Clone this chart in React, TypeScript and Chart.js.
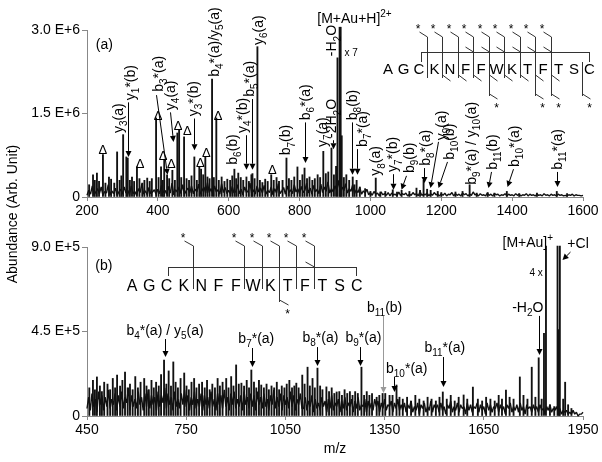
import React, { useEffect, useRef } from 'react';
import { Chart, registerables } from 'chart.js';
Chart.register(...registerables);

const FONT = '"Liberation Sans", Arial, Helvetica, sans-serif';

// ---------------- DATA ----------------
// Panel (a): baseline noise, sampled every 5 m/z from 200 (units of 1E+4)
const topNoiseStart = 200;
const topNoiseStep = 5;
const topNoise = [
  3,12,5,20,4,9,15,6,18,3,10,7,22,4,11,6,16,3,9,14,
  5,18,7,12,4,20,6,10,3,15,8,24,5,11,4,17,6,9,13,5,
  14,6,21,8,12,5,19,7,25,4,13,9,18,6,22,5,11,16,7,20,
  6,14,9,23,5,12,18,7,26,8,15,6,20,9,13,5,24,8,17,6,
  12,5,19,7,10,22,6,14,4,18,8,11,25,6,13,5,20,9,16,7,
  21,5,12,8,18,4,15,7,24,6,11,17,5,20,8,13,6,22,9,15,
  6,19,8,12,25,7,16,5,21,9,14,6,23,8,18,10,27,7,15,9,
  20,12,30,8,18,11,24,7,15,10,22,6,13,8,17,5,11,7,14,4,
  8,3,10,5,7,2,9,4,6,3,8,2,7,4,5,2,9,3,6,4,
  7,2,5,3,8,4,6,2,10,3,5,4,7,2,6,3,8,4,5,2,
  6,3,7,2,5,4,8,2,6,3,5,2,7,4,6,2,5,3,9,4,
  5,2,6,3,4,2,7,3,5,2,6,4,5,2,4,3,6,2,5,3,
  4,2,6,3,5,2,4,3,6,2,5,3,4,2,5,3,4,2,6,3,
  4,2,5,3,4,2,5,3,4,2,3,2,4,3,5,2,4,3,3,2,
  3,
];
// Panel (a): labelled / major peaks (m/z) and abundance (units of 1E+6)
const topPeakMz = [217,228,245,262,285,302,311,315,327,341,370,395,409,418,426,441,455,460,474,503,517,522,534,553,565,616,627,650,664,667,681,720,752,763,794,814,867,890,907,913,916,919,950,961,1015,1063,1088,1130,1150,1170,1190,1280,1331,1385,1526];
const topPeakAbund = [0.40,0.43,0.76,0.36,0.81,1.12,0.72,0.70,0.36,0.54,0.34,1.42,0.54,0.66,0.40,0.48,1.15,1.20,1.08,0.72,0.54,0.50,0.72,2.12,1.42,0.50,0.43,0.36,0.40,0.42,2.70,0.40,0.30,0.70,0.54,0.52,0.82,0.88,2.50,3.05,3.05,1.10,0.36,0.30,0.34,0.13,0.12,0.16,0.30,0.12,0.10,0.22,0.08,0.10,0.10];
// Panel (a): minor peaks (units of 1E+6)
const topMinorMz = [206,222,234,252,268,277,292,297,321,333,348,356,362,377,383,402,414,432,448,466,481,488,495,510,528,540,546,558,572,580,588,596,604,610,621,634,641,657,673,688,695,703,710,727,735,742,770,777,785,801,808,821,828,836,843,851,858,874,881,897,903,925,932,940,955,970,985,1000,1028,1042,1075,1110,1140,1160,1200,1240,1260,1300,1350,1420,1470,1555];
const topMinorAbund = [0.22,0.30,0.28,0.25,0.32,0.25,0.30,0.38,0.30,0.28,0.33,0.25,0.30,0.28,0.33,0.35,0.30,0.33,0.30,0.35,0.33,0.30,0.38,0.30,0.40,0.36,0.33,0.35,0.30,0.36,0.28,0.32,0.30,0.38,0.33,0.35,0.30,0.28,0.33,0.30,0.26,0.32,0.28,0.30,0.35,0.28,0.33,0.30,0.36,0.30,0.40,0.33,0.36,0.30,0.33,0.40,0.35,0.42,0.45,0.40,0.55,0.35,0.40,0.30,0.22,0.18,0.15,0.10,0.09,0.10,0.09,0.10,0.12,0.14,0.08,0.09,0.10,0.07,0.07,0.06,0.07,0.06];

// Panel (b): baseline noise, every 5 m/z from 450 (units of 1E+4)
const bottomNoiseStart = 450;
const bottomNoiseStep = 5;
const bottomNoise = [
  4,10,3,12,5,9,2,13,6,11,3,10,5,14,4,9,6,12,3,11,
  5,13,4,10,7,15,3,11,5,9,4,13,6,10,3,12,5,14,4,11,
  6,10,3,13,5,11,7,15,4,12,6,10,3,13,5,9,4,12,6,14,
  5,11,3,10,6,13,4,9,5,12,3,11,6,10,4,13,5,9,3,12,
  6,11,4,14,5,10,3,12,6,13,4,9,5,11,3,13,6,10,4,12,
  5,11,3,13,6,10,4,12,5,9,3,11,6,14,4,10,5,12,3,11,
  6,10,4,13,5,11,3,9,6,12,4,
  4,10,3,8,5,11,2,9,4,7,3,10,5,8,2,9,4,11,3,7,
  5,9,2,8,4,10,3,7,5,9,2,8,4,10,3,6,5,9,2,8,
  4,7,3,9,5,8,2,7,4,9,3,6,5,8,2,7,4,9,3,6,
  3,7,2,6,4,8,2,5,3,7,1,6,4,7,2,5,3,8,2,6,
  4,6,2,7,3,5,1,6,4,8,2,5,3,7,2,6,4,5,1,7,
  3,6,2,5,4,7,2,6,3,5,1,7,3,6,2,5,4,7,2,6,
  3,5,1,6,4,7,2,5,3,6,2,7,3,5,1,6,4,5,2,6,
  3,5,2,6,3,4,1,5,3,6,2,4,3,5,2,4,1,3,2,3,
  1,2,1,3,1,2,0,1,1,2,
];
// Panel (b): labelled / major peaks (m/z) and abundance (units of 1E+5)
const bottomPeakMz = [480,502,541,565,623,659,683,711,744,774,798,871,901,917,947,977,1062,1083,1101,1117,1132,1147,1174,1205,1280,1326,1344,1365,1386,1526,1589,1617,1717,1759,1795,1816,1832,1838,1873,1877,1880,1896];
const bottomPeakAbund = [2.08,1.80,2.18,2.34,2.00,1.80,2.98,2.88,2.29,2.00,1.80,2.00,2.72,1.75,2.45,1.65,1.90,1.75,2.18,2.60,2.00,2.55,1.55,1.28,2.60,1.00,1.20,1.10,1.65,1.28,1.12,1.54,1.38,2.08,2.60,3.10,4.40,9.05,9.05,4.60,9.05,1.80];
// Panel (b): minor peaks (units of 1E+5)
const bottomMinorMz = [457,468,474,489,495,512,520,528,535,550,557,573,580,588,596,604,612,630,637,645,652,667,674,690,697,704,718,725,733,751,758,766,781,789,806,813,821,829,837,845,852,860,878,886,893,909,925,933,940,955,962,970,985,993,1000,1008,1016,1024,1031,1039,1047,1054,1070,1077,1090,1108,1124,1139,1155,1162,1182,1190,1198,1213,1221,1229,1237,1245,1253,1261,1269,1288,1296,1304,1312,1334,1352,1374,1395,1405,1418,1430,1443,1455,1468,1480,1492,1505,1516,1538,1550,1562,1574,1600,1632,1645,1657,1670,1683,1695,1705,1728,1740,1770,1782,1806,1825,1850,1863,1890,1905,1915];
const bottomMinorAbund = [1.5,1.9,1.4,1.6,1.3,1.7,1.4,2.0,1.5,1.6,1.9,1.5,1.7,1.4,2.1,1.5,1.8,1.6,1.4,1.9,1.5,1.6,2.2,1.7,2.4,1.6,1.8,1.5,2.0,1.6,1.4,1.8,1.5,1.7,1.5,1.9,1.4,1.7,1.5,2.0,1.6,1.8,1.5,2.1,1.6,1.7,1.6,1.9,1.5,1.8,1.5,1.9,1.5,1.7,1.4,1.6,1.5,1.8,1.4,1.6,1.5,1.7,1.5,1.6,1.5,1.7,1.6,1.5,1.6,1.4,1.3,1.5,1.2,1.3,1.1,1.4,1.2,1.3,1.1,1.3,1.2,1.1,1.3,1.1,1.2,1.1,1.2,1.1,1.0,0.9,1.0,0.8,1.1,0.9,0.8,1.0,0.9,0.8,1.0,0.9,1.1,0.8,1.0,0.9,0.9,0.8,1.0,0.9,0.8,1.1,0.9,1.0,0.9,1.1,0.9,1.0,0.9,0.6,0.5,0.9,0.6,0.4];

// Axis ticks
const topXTicks = [200,400,600,800,1000,1200,1400,1600];
const topXLabels = ['200','400','600','800','1000','1200','1400','1600'];
const topYTicks = [0,1.5e6,3.0e6];
const topYLabels = ['0','1.5 E+6','3.0 E+6'];
const bottomXTicks = [450,750,1050,1350,1650,1950];
const bottomXLabels = ['450','750','1050','1350','1650','1950'];
const bottomYTicks = [0,4.5e5,9.0e5];
const bottomYLabels = ['0','4.5 E+5','9.0 E+5'];

// Annotations, anchored in data units: [text, m/z, abundance, arrowFromMz, arrowFromAb, arrowToMz, arrowToAb]
const topLabels: any[] = [
  ['y_{3}(a)', 290, 1.15],
  ['y_{1}*(b)', 324, 1.74, 316, 1.70, 316, 0.72],
  ['b_{3}*(a)', 404, 1.89, 396, 1.83, 426, 0.40],
  ['y_{4}(a)', 438, 1.56, 435, 1.52, 443, 0.99],
  ['y_{3}*(b)', 503, 1.45, 503, 1.41, 503, 0.84],
  ['b_{4}*(a)/y_{5}(a)', 562, 2.16],
  ['b_{6}(b)', 613, 0.58],
  ['y_{4}*(b)', 641, 1.15, 650, 1.11, 650, 0.49],
  ['b_{5}*(a)', 661, 1.80, 667, 1.76, 667, 0.49],
  ['y_{6}(a)', 686, 2.73],
  ['b_{7}(b)', 763, 0.75],
  ['b_{6}*(a)', 817, 1.38, 814, 1.34, 814, 0.61],
  ['y_{7}(a)', 865, 0.90],
  ['-2H_{2}O', 893, 1.06, 893, 1.02, 893, 0.86],
  ['-H_{2}O', 893, 2.53],
  ['b_{8}(b)', 950, 1.38, 947, 1.34, 947, 0.40],
  ['b_{7}*(a)', 978, 0.90, 963, 0.86, 963, 0.40],
  ['y_{8}(a)', 1017, 0.38],
  ['y_{7}*(b)', 1065, 0.45, 1063, 0.41, 1063, 0.13],
  ['b_{9}(b)', 1111, 0.43, 1100, 0.38, 1085, 0.13],
  ['b_{8}*(a)', 1156, 0.56, 1150, 0.52, 1150, 0.25],
  ['y_{9}(a)', 1201, 1.02, 1190, 0.99, 1167, 0.16],
  ['b_{10}(b)', 1224, 0.67, 1215, 0.63, 1190, 0.16],
  ['b_{9}*(a) / y_{10}(a)', 1286, 0.22],
  ['b_{11}(b)', 1345, 0.49, 1340, 0.45, 1331, 0.16],
  ['b_{10}*(a)', 1408, 0.54, 1402, 0.50, 1385, 0.18],
  ['b_{11}*(a)', 1529, 0.49, 1526, 0.45, 1526, 0.18],
];
const topDeltas = [[245,0.86],[350,0.61],[401,1.47],[415,0.75],[438,0.61],[457,1.29],[483,1.20],[520,0.63],[537,0.81],[570,1.47],[723,0.50]];

const bottomLabels: any[] = [
  ['b_{4}*(a) / y_{5}(a)', 686, 4.31, 686, 4.10, 686, 3.14],
  ['b_{7}*(a)', 962, 3.89, 950, 3.62, 950, 2.61],
  ['b_{8}*(a)', 1156, 3.94, 1147, 3.67, 1147, 2.66],
  ['b_{9}*(a)', 1286, 3.94, 1277, 3.67, 1277, 2.66],
  ['b_{11}(b)', 1350, 5.54, 1344, 5.33, 1344, 1.22],
  ['b_{10}*(a)', 1417, 2.29, 1377, 2.08, 1377, 1.28],
  ['b_{11}*(a)', 1532, 3.41, 1526, 3.14, 1526, 1.54],
  ['-H_{2}O', 1783, 5.54, 1816, 5.33, 1816, 3.25],
  ['[M+Au]^{+}', 1783, 9.0],
  ['+Cl', 1935, 8.95, 1910, 8.73, 1886, 8.31],
];

const residues = ['A','G','C','K','N','F','F','W','K','T','F','T','S','C'];
// diagram cleavages: [index, topStar, midTick, bottomTick, extendedStar]
const topCleavages = [
  [2,1,0,0,0],[3,1,0,1,0],[4,1,0,1,0],[5,1,1,1,0],[6,1,1,1,1],
  [7,1,1,1,0],[8,1,1,1,0],[9,1,1,1,1],[10,1,1,1,1],[12,0,0,0,1],
];
const bottomCleavages = [
  [3,1,0,0,0],[6,1,0,0,0],[7,1,0,0,0],[8,1,0,0,1],[9,1,0,0,0],[10,1,1,0,0],
];

// ---------------- drawing helpers ----------------
function parseRich(s: string) {
  const out: { t: string; k: string }[] = [];
  let buf = '';
  let i = 0;
  while (i < s.length) {
    const c = s[i];
    if ((c === '_' || c === '^') && s[i + 1] === '{') {
      if (buf) { out.push({ t: buf, k: 'n' }); buf = ''; }
      const j = s.indexOf('}', i);
      out.push({ t: s.slice(i + 2, j), k: c === '_' ? 'sub' : 'sup' });
      i = j + 1;
    } else { buf += c; i++; }
  }
  if (buf) out.push({ t: buf, k: 'n' });
  return out;
}

function drawRich(ctx: CanvasRenderingContext2D, s: string, x: number, y: number, size: number, align: string) {
  const segs = parseRich(s);
  const small = Math.round(size * 0.72);
  const widths = segs.map(sg => { ctx.font = `${sg.k === 'n' ? size : small}px ${FONT}`; return ctx.measureText(sg.t).width; });
  const total = widths.reduce((a, b) => a + b, 0);
  let cx = align === 'left' ? x : align === 'center' ? x - total / 2 : x - total;
  ctx.textAlign = 'left';
  ctx.textBaseline = 'alphabetic';
  segs.forEach((sg, i) => {
    ctx.font = `${sg.k === 'n' ? size : small}px ${FONT}`;
    const dy = sg.k === 'sub' ? size * 0.3 : sg.k === 'sup' ? -size * 0.4 : 0;
    ctx.fillText(sg.t, cx, y + dy);
    cx += widths[i];
  });
}

function drawRot(ctx: CanvasRenderingContext2D, s: string, cx: number, yb: number, size: number) {
  ctx.save();
  ctx.translate(cx + size * 0.28, yb);
  ctx.rotate(-Math.PI / 2);
  drawRich(ctx, s, 0, 0, size, 'left');
  ctx.restore();
}

function arrow(ctx: CanvasRenderingContext2D, x1: number, y1: number, x2: number, y2: number, color = '#000') {
  const ang = Math.atan2(y2 - y1, x2 - x1);
  const L = 6, W = 3;
  const c = Math.cos(ang), s = Math.sin(ang);
  const bx = x2 - L * c, by = y2 - L * s;
  ctx.strokeStyle = color; ctx.fillStyle = color; ctx.lineWidth = 1;
  ctx.beginPath(); ctx.moveTo(x1, y1); ctx.lineTo(bx, by); ctx.stroke();
  ctx.beginPath(); ctx.moveTo(x2, y2); ctx.lineTo(bx + W * s, by - W * c); ctx.lineTo(bx - W * s, by + W * c); ctx.closePath(); ctx.fill();
}

function seg(ctx: CanvasRenderingContext2D, x1: number, y1: number, x2: number, y2: number) {
  ctx.beginPath(); ctx.moveTo(x1, y1); ctx.lineTo(x2, y2); ctx.stroke();
}

function star(ctx: CanvasRenderingContext2D, x: number, yCenter: number) {
  ctx.font = `12px ${FONT}`; ctx.textAlign = 'center'; ctx.textBaseline = 'alphabetic';
  ctx.fillText('*', x, yCenter + 7);
}

function drawSequence(ctx: CanvasRenderingContext2D, o: any) {
  ctx.save();
  ctx.fillStyle = '#000';
  ctx.strokeStyle = '#333';
  ctx.lineWidth = 1;
  const lx = (i: number) => o.x0 + o.dx * i;
  residues.forEach((r, i) => { ctx.font = `${o.size}px ${FONT}`; ctx.textAlign = 'center'; ctx.textBaseline = 'alphabetic'; ctx.fillText(r, lx(i), o.base); });
  const a = Math.round(lx(2) + 1.5) + 0.5, b = Math.round(lx(13) - 1) + 0.5;
  seg(ctx, a, o.bar + 0.5, b, o.bar + 0.5);
  seg(ctx, a, o.bar, a, o.bar + o.endTick);
  seg(ctx, b, o.bar, b, o.bar + o.endTick);
  o.cleavages.forEach((c: number[]) => {
    const x = Math.round(o.x0 + o.dx * (c[0] + 0.5)) + 0.5;
    const topY = c[1] ? o.lineTop : o.extTop;
    const botY = c[4] ? o.extBottom : o.lineBottom;
    seg(ctx, x, topY, x, botY);
    if (c[1]) { seg(ctx, x - o.diag, topY - 5, x, topY); star(ctx, x - o.diag - 1.5, topY - 11); }
    if (c[2]) seg(ctx, x - o.diag, o.bar - 5, x, o.bar);
    if (c[3]) seg(ctx, x, o.lineBottom - 3, x + o.diag, o.lineBottom + 3);
    if (c[4]) { seg(ctx, x, botY - 2, x + o.diag, botY + 3); star(ctx, x + o.diag - 1, botY + 9); }
  });
  ctx.restore();
}

// ---------------- series builders ----------------
function buildNoise(start: number, step: number, noise: number[], unit: number) {
  return noise.map((v, i) => ({ x: start + i * step, y: v * unit }));
}
function buildPeaks(mz: number[], ab: number[], mz2: number[], ab2: number[], unit: number) {
  const pts = mz.map((m, i) => ({ x: m, y: ab[i] * unit }));
  mz2.forEach((m, i) => pts.push({ x: m, y: ab2[i] * unit }));
  pts.sort((p, q) => p.x - q.x);
  return pts;
}

const topPlugin = {
  id: 'topAnnotations',
  afterDraw(chart: any) {
    const ctx: CanvasRenderingContext2D = chart.ctx;
    const X = (v: number) => chart.scales.x.getPixelForValue(v);
    const Y = (v: number) => chart.scales.y.getPixelForValue(v * 1e6);
    ctx.save();
    topLabels.forEach(l => {
      ctx.fillStyle = '#000';
      drawRot(ctx, l[0], X(l[1]), Y(l[2]), 14);
      if (l.length > 3) arrow(ctx, Math.round(X(l[3])) + 0.5, Y(l[4]), Math.round(X(l[5])) + 0.5, Y(l[6]));
    });
    ctx.fillStyle = '#000';
    topDeltas.forEach(d => {
      ctx.font = `13px ${FONT}`; ctx.textAlign = 'center'; ctx.textBaseline = 'alphabetic';
      ctx.fillText('\u0394', X(d[0]), Y(d[1]) + 5);
    });
    ctx.font = `14px ${FONT}`; ctx.textAlign = 'center'; ctx.textBaseline = 'middle';
    ctx.fillText('(a)', X(249), Y(2.73));
    drawRich(ctx, '[M+Au+H]^{2+}', X(850), Y(3.13), 14, 'left');
    ctx.font = `10px ${FONT}`; ctx.textAlign = 'left'; ctx.textBaseline = 'alphabetic';
    ctx.fillText('x 7', X(927), Y(2.53));
    ctx.restore();
    drawSequence(ctx, { x0: 388, dx: 15.5, base: 74, size: 15, bar: 52, endTick: 10, lineTop: 37, lineBottom: 78, extTop: 62, extBottom: 96, diag: 8, cleavages: topCleavages });
  },
};

const bottomPlugin = {
  id: 'bottomAnnotations',
  afterDraw(chart: any) {
    const ctx: CanvasRenderingContext2D = chart.ctx;
    const X = (v: number) => chart.scales.x.getPixelForValue(v);
    const Y = (v: number) => chart.scales.y.getPixelForValue(v * 1e5);
    ctx.save();
    bottomLabels.forEach(l => {
      ctx.fillStyle = '#000';
      drawRich(ctx, l[0], X(l[1]), Y(l[2]), 14, 'center');
      if (l.length > 3) arrow(ctx, Math.round(X(l[3])) + 0.5, Y(l[4]), Math.round(X(l[5])) + 0.5, Y(l[6]), l[0] === 'b_{11}(b)' ? '#999' : '#000');
    });
    ctx.fillStyle = '#000';
    ctx.font = `10px ${FONT}`; ctx.textAlign = 'center'; ctx.textBaseline = 'alphabetic';
    ctx.fillText('4 x', X(1808), Y(7.46));
    ctx.font = `14px ${FONT}`; ctx.textAlign = 'center'; ctx.textBaseline = 'middle';
    ctx.fillText('(b)', X(501), Y(7.99));
    // shared y-axis title
    ctx.save();
    ctx.translate(17, 214);
    ctx.rotate(-Math.PI / 2);
    ctx.font = `14px ${FONT}`; ctx.textAlign = 'center'; ctx.textBaseline = 'alphabetic';
    ctx.fillText('Abundance (Arb. Unit)', 0, 0);
    ctx.restore();
    ctx.restore();
    drawSequence(ctx, { x0: 132, dx: 17.3, base: 291, size: 16, bar: 267, endTick: 9, lineTop: 246, lineBottom: 289, extTop: 262, extBottom: 302, diag: 9, cleavages: bottomCleavages });
  },
};

function makeConfig(o: any): any {
  const tickFont = { family: FONT, size: 14 };
  return {
    type: 'line',
    data: {
      datasets: [
        { type: 'line', data: o.noise, borderColor: '#111', borderWidth: 1.4, pointRadius: 0, tension: 0, fill: false, clip: false, borderJoinStyle: 'bevel', order: 2 },
        { type: 'bar', data: o.peaks, backgroundColor: '#111', borderWidth: 0, barThickness: 1.2, clip: false, order: 1 },
      ],
    },
    options: {
      animation: false,
      responsive: false,
      events: [],
      layout: { padding: o.padding },
      plugins: { legend: { display: false }, tooltip: { enabled: false }, title: { display: false } },
      scales: {
        x: {
          type: 'linear', min: o.xMin, max: o.xMax, offset: false,
          afterBuildTicks: (s: any) => { s.ticks = o.xTicks.map((v: number) => ({ value: v })); },
          afterFit: (s: any) => { s.height = o.xHeight; },
          ticks: { autoSkip: false, maxRotation: 0, minRotation: 0, padding: 2, color: '#000', font: tickFont, callback: (_v: any, i: number) => o.xLabels[i] },
          grid: { display: true, offset: false, drawOnChartArea: false, drawTicks: true, tickLength: 4, color: '#888' },
          border: { display: true, color: '#888' },
          title: o.xTitle ? { display: true, text: o.xTitle, color: '#000', font: tickFont, padding: { top: 0, bottom: 4 } } : { display: false },
        },
        y: {
          type: 'linear', min: o.yMin, max: o.yMax,
          afterBuildTicks: (s: any) => { s.ticks = o.yTicks.map((v: number) => ({ value: v })); },
          afterFit: (s: any) => { s.width = 87; },
          ticks: { autoSkip: false, padding: 2, color: '#000', font: tickFont, callback: (_v: any, i: number) => o.yLabels[i] },
          grid: { display: true, drawOnChartArea: false, drawTicks: true, tickLength: 5, color: '#888' },
          border: { display: true, color: '#888' },
        },
      },
    },
    plugins: [o.plugin],
  };
}

export default function App() {
  const topRef = useRef<HTMLCanvasElement>(null);
  const botRef = useRef<HTMLCanvasElement>(null);
  useEffect(() => {
    const c1 = new Chart(topRef.current as HTMLCanvasElement, makeConfig({
      noise: buildNoise(topNoiseStart, topNoiseStep, topNoise, 1e4),
      peaks: buildPeaks(topPeakMz, topPeakAbund, topMinorMz, topMinorAbund, 1e6),
      padding: { left: 0, right: 19, top: 30, bottom: 235 },
      xMin: 200, xMax: 1600, xTicks: topXTicks, xLabels: topXLabels, xHeight: 30,
      yMin: 0, yMax: 3e6, yTicks: topYTicks, yLabels: topYLabels, plugin: topPlugin,
    }));
    const c2 = new Chart(botRef.current as HTMLCanvasElement, makeConfig({
      noise: buildNoise(bottomNoiseStart, bottomNoiseStep, bottomNoise, 1e4),
      peaks: buildPeaks(bottomPeakMz, bottomPeakAbund, bottomMinorMz, bottomMinorAbund, 1e5),
      padding: { left: 0, right: 19, top: 247, bottom: 0 },
      xMin: 450, xMax: 1950, xTicks: bottomXTicks, xLabels: bottomXLabels, xHeight: 46, xTitle: 'm/z',
      yMin: 0, yMax: 9e5, yTicks: bottomYTicks, yLabels: bottomYLabels, plugin: bottomPlugin,
    }));
    return () => { c1.destroy(); c2.destroy(); };
  }, []);
  return (
    <div style={{ position: 'fixed', left: 0, top: 0, width: 602, height: 462, background: '#fff', overflow: 'hidden' }}>
      <canvas ref={topRef} width={602} height={462} style={{ position: 'absolute', left: 0, top: 0, width: 602, height: 462 }} />
      <canvas ref={botRef} width={602} height={462} style={{ position: 'absolute', left: 0, top: 0, width: 602, height: 462 }} />
    </div>
  );
}
